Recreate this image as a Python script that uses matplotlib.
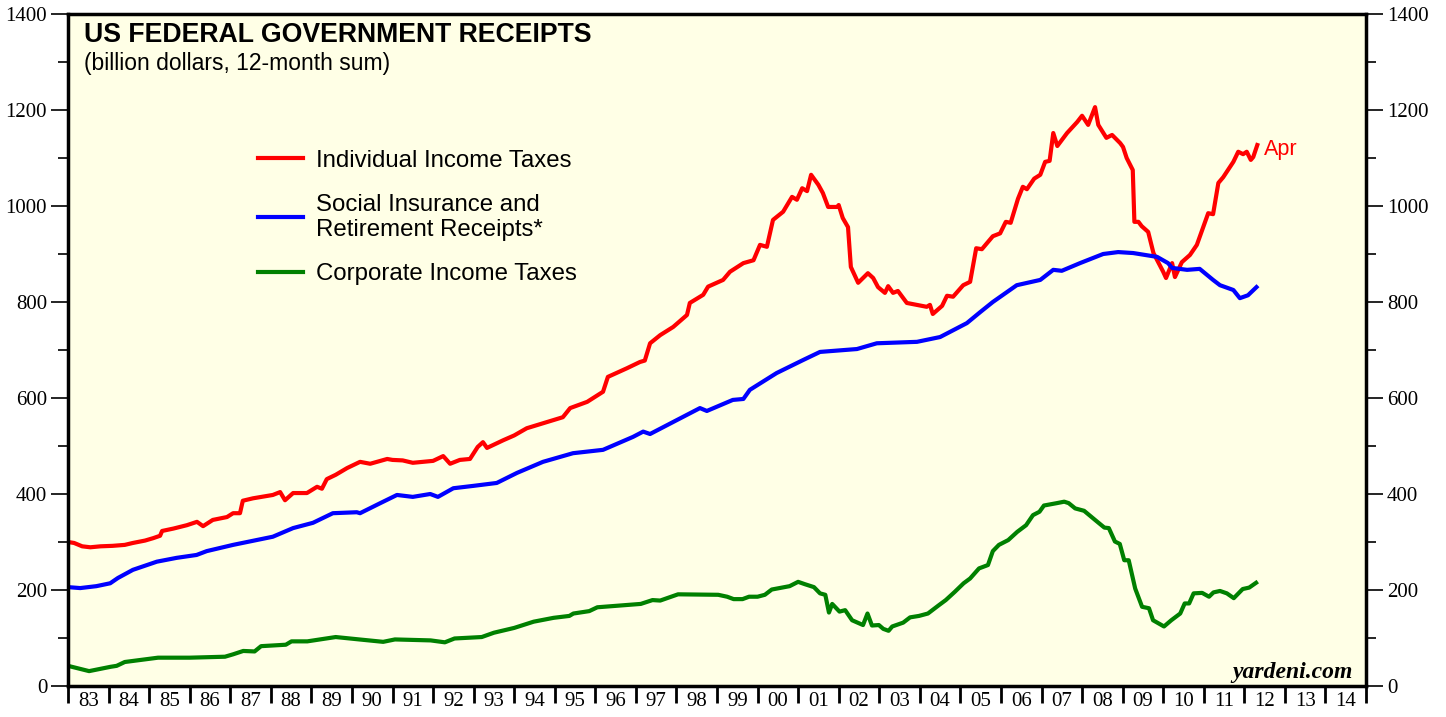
import matplotlib
matplotlib.use("Agg")
import matplotlib.pyplot as plt
import numpy as np
from matplotlib.ticker import FixedLocator, NullFormatter

# --- data (billion dollars, 12-month sum) ---
ind_years = [1983.0, 1983.15, 1983.35, 1983.55, 1983.8, 1984.1, 1984.4, 1984.6, 1984.9, 1985.1,
             1985.27, 1985.32, 1985.6, 1985.93, 1986.18, 1986.33, 1986.57, 1986.92, 1987.07, 1987.24,
             1987.31, 1987.56, 1988.05, 1988.23, 1988.35, 1988.55, 1988.89, 1989.14, 1989.26, 1989.38,
             1989.6, 1989.88, 1990.2, 1990.45, 1990.87, 1991.0, 1991.25, 1991.5, 1992.0, 1992.25,
             1992.42, 1992.66, 1992.91, 1993.1, 1993.23, 1993.33, 1993.73, 1994.0, 1994.31, 1994.81,
             1995.2, 1995.38, 1995.8, 1996.19, 1996.31, 1996.78, 1997.1, 1997.22, 1997.35, 1997.6,
             1997.92, 1998.26, 1998.33, 1998.66, 1998.78, 1999.15, 1999.32, 1999.65, 1999.9, 2000.06,
             2000.23, 2000.38, 2000.63, 2000.85, 2000.97, 2001.1, 2001.22, 2001.32, 2001.5, 2001.61,
             2001.74, 2001.96, 2002.0, 2002.1, 2002.23, 2002.3, 2002.48, 2002.72, 2002.85, 2002.97,
             2003.14, 2003.22, 2003.34, 2003.46, 2003.68, 2003.93, 2004.17, 2004.25, 2004.32, 2004.55,
             2004.67, 2004.82, 2005.07, 2005.24, 2005.39, 2005.53, 2005.8, 2005.98, 2006.12, 2006.24,
             2006.42, 2006.54, 2006.64, 2006.82, 2006.97, 2007.09, 2007.2, 2007.29, 2007.39, 2007.63,
             2007.88, 2008.0, 2008.15, 2008.32, 2008.4, 2008.6, 2008.74, 2008.94, 2009.01, 2009.1,
             2009.25, 2009.29, 2009.39, 2009.47, 2009.63, 2009.76, 2010.0, 2010.07, 2010.22, 2010.29,
             2010.46, 2010.66, 2010.83, 2011.11, 2011.23, 2011.36, 2011.48, 2011.73, 2011.85, 2011.97,
             2012.06, 2012.16, 2012.22, 2012.32]
ind_vals = [300, 298, 291, 289, 291, 292, 294, 298, 303, 308,
            313, 323, 328, 335, 342, 333, 346, 352, 360, 360,
            386, 391, 398, 404, 387, 402, 402, 415, 411, 431,
            440, 454, 467, 463, 473, 471, 470, 465, 469, 479,
            463, 471, 473, 498, 508, 496, 512, 522, 537, 550,
            560, 579, 592, 613, 644, 662, 675, 678, 714, 731,
            748, 773, 798, 815, 832, 846, 863, 881, 887, 919,
            915, 971, 988, 1019, 1013, 1037, 1031, 1065, 1044, 1027,
            998, 998, 1002, 975, 956, 873, 840, 860, 850, 831,
            819, 833, 819, 823, 798, 794, 790, 794, 775, 792,
            813, 811, 835, 842, 912, 910, 937, 943, 967, 965,
            1015, 1040, 1035, 1057, 1065, 1092, 1094, 1152, 1125, 1152,
            1175, 1188, 1169, 1206, 1169, 1142, 1148, 1131, 1123, 1100,
            1075, 967, 967, 958, 946, 902, 863, 850, 881, 852,
            883, 898, 919, 985, 983, 1048, 1060, 1092, 1113, 1108,
            1113, 1096, 1102, 1127]

soc_years = [1983.0, 1983.3, 1983.7, 1984.04, 1984.23, 1984.6, 1985.19, 1985.68, 1986.17, 1986.42,
             1987.07, 1988.05, 1988.55, 1989.04, 1989.53, 1990.12, 1990.2, 1990.7, 1991.11, 1991.5,
             1991.93, 1992.12, 1992.5, 1993.0, 1993.57, 1994.07, 1994.71, 1995.45, 1996.19, 1996.93,
             1997.18, 1997.35, 1998.01, 1998.58, 1998.75, 1999.39, 1999.65, 1999.81, 2000.47, 2001.12,
             2001.54, 2002.45, 2002.94, 2003.93, 2004.5, 2005.16, 2005.49, 2005.8, 2006.39, 2006.97,
             2007.29, 2007.5, 2007.95, 2008.28, 2008.52, 2008.89, 2009.26, 2009.85, 2010.12, 2010.22,
             2010.59, 2010.9, 2011.23, 2011.4, 2011.73, 2011.89, 2012.09, 2012.3]
soc_vals = [206, 204, 208, 214, 225, 242, 259, 267, 273, 281,
            294, 311, 329, 340, 360, 362, 360, 381, 398, 394,
            400, 394, 412, 417, 423, 444, 467, 485, 492, 519,
            530, 525, 554, 579, 573, 596, 598, 617, 652, 679,
            696, 702, 714, 717, 727, 756, 779, 800, 835, 846,
            867, 865, 881, 892, 900, 904, 902, 894, 881, 871,
            867, 869, 846, 835, 825, 808, 814, 831]

corp_years = [1983.0, 1983.52, 1984.05, 1984.2, 1984.4, 1985.22, 1986.0, 1986.87, 1987.07, 1987.32,
              1987.6, 1987.76, 1988.37, 1988.51, 1988.9, 1989.6, 1990.18, 1990.77, 1991.06, 1991.94,
              1992.29, 1992.53, 1993.2, 1993.5, 1994.0, 1994.48, 1994.97, 1995.36, 1995.46, 1995.85,
              1996.05, 1997.12, 1997.41, 1997.6, 1998.04, 1999.03, 1999.25, 1999.41, 1999.63, 1999.79,
              2000.0, 2000.18, 2000.35, 2000.79, 2001.0, 2001.17, 2001.39, 2001.54, 2001.67, 2001.76,
              2001.84, 2002.02, 2002.16, 2002.33, 2002.6, 2002.71, 2002.82, 2002.99, 2003.1, 2003.23,
              2003.32, 2003.59, 2003.76, 2003.98, 2004.2, 2004.48, 2004.64, 2004.86, 2005.08, 2005.24,
              2005.46, 2005.68, 2005.8, 2005.95, 2006.18, 2006.4, 2006.62, 2006.79, 2006.95, 2007.06,
              2007.38, 2007.56, 2007.67, 2007.83, 2008.05, 2008.32, 2008.55, 2008.66, 2008.81, 2008.93,
              2009.04, 2009.15, 2009.31, 2009.48, 2009.65, 2009.75, 2010.02, 2010.2, 2010.42, 2010.53,
              2010.64, 2010.75, 2010.96, 2011.13, 2011.24, 2011.4, 2011.57, 2011.74, 2011.96, 2012.12,
              2012.29]
corp_vals = [42, 31, 40, 42, 50, 59, 59, 61, 66, 73,
             72, 83, 86, 93, 93, 102, 97, 92, 97, 95,
             91, 99, 102, 111, 121, 134, 142, 146, 151, 156,
             164, 171, 179, 178, 191, 190, 186, 181, 181, 186,
             186, 190, 201, 208, 217, 212, 206, 193, 190, 153,
             171, 155, 158, 137, 127, 151, 126, 127, 119, 115,
             124, 132, 143, 146, 151, 169, 179, 196, 214, 224,
             245, 252, 281, 294, 304, 321, 335, 356, 363, 376,
             381, 384, 381, 370, 365, 346, 330, 329, 301, 296,
             262, 262, 203, 165, 162, 137, 124, 137, 151, 172,
             172, 193, 194, 186, 195, 198, 193, 183, 202, 205,
             215]

series_labels = ["Individual Income Taxes",
                 "Social Insurance and\nRetirement Receipts*",
                 "Corporate Income Taxes"]
year_labels = [f"{y % 100:02d}" for y in range(1983, 2015)]

# --- figure ---
fig = plt.figure(figsize=(14.46, 7.17), dpi=100)
ax = fig.add_axes([68 / 1446, 31 / 717, 1298 / 1446, 672 / 717])
ax.set_facecolor("#FFFFE6")

lw = 3.0
ax.plot(ind_years, ind_vals, color="#FF0000", lw=lw, label=series_labels[0], solid_joinstyle="round")
ax.plot(soc_years, soc_vals, color="#0000FF", lw=lw, label=series_labels[1], solid_joinstyle="round")
ax.plot(corp_years, corp_vals, color="#008000", lw=lw, label=series_labels[2], solid_joinstyle="round")

ax.set_xlim(1983, 2015)
ax.set_ylim(0, 1400)

# x: ticks at year boundaries, labels centred in between
ax.xaxis.set_major_locator(FixedLocator(np.arange(1983, 2016)))
ax.xaxis.set_major_formatter(NullFormatter())
ax.xaxis.set_minor_locator(FixedLocator(np.arange(1983, 2015) + 0.5))
ax.set_xticklabels(year_labels, minor=True)
ax.tick_params(axis="x", which="major", direction="out", length=12, width=2)
ax.tick_params(axis="x", which="minor", length=0, pad=4, labelsize=15)

# y: labels on both sides
ax.set_yticks(np.arange(0, 1401, 200))
ax.set_yticks(np.arange(100, 1400, 200), minor=True)
ax.tick_params(axis="y", which="major", direction="out", length=12, width=1.2,
               labelsize=15, left=True, right=True, labelleft=True, labelright=True, pad=3)
ax.tick_params(axis="y", which="minor", direction="out", length=7, width=1.2,
               left=True, right=True)

for lab in ax.get_xticklabels(minor=True) + ax.get_yticklabels():
    lab.set_fontfamily("Liberation Serif")

for s in ax.spines.values():
    s.set_linewidth(2.5)
    s.set_color("black")

# titles
ax.text(0.012, 0.988, "US FEDERAL GOVERNMENT RECEIPTS", transform=ax.transAxes,
        fontsize=19.2, fontweight="bold", family="Liberation Sans", va="top", ha="left")
ax.text(0.012, 0.944, "(billion dollars, 12-month sum)", transform=ax.transAxes,
        fontsize=16.5, family="Liberation Sans", va="top", ha="left")

leg = ax.legend(loc="upper left", bbox_to_anchor=(0.13, 0.8305), frameon=False,
                prop={"family": "Liberation Sans", "size": 17.3},
                handlelength=1.85, handletextpad=0.55, labelspacing=0.92)
for line in leg.get_lines():
    line.set_linewidth(3)

ax.annotate("Apr", xy=(ind_years[-1], ind_vals[-1]), xytext=(5, -3), textcoords="offset points",
            color="#FF0000", fontsize=15.5, family="Liberation Sans", va="center", ha="left")

ax.text(0.99, 0.005, "yardeni.com", transform=ax.transAxes, ha="right", va="bottom",
        fontsize=17, family="Liberation Serif", fontstyle="italic", fontweight="bold")

fig.savefig("out.png", dpi=100)
